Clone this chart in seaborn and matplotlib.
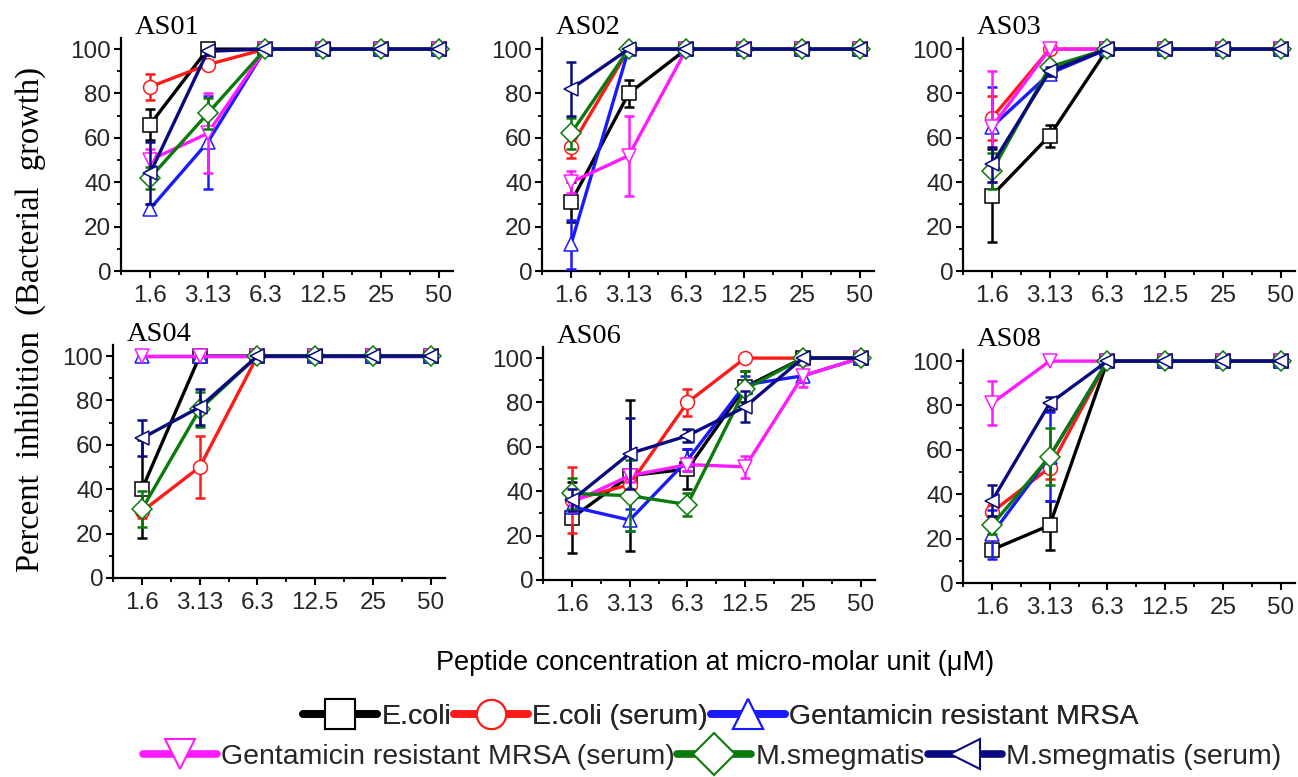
import numpy as np
import pandas as pd
import matplotlib
matplotlib.use("Agg")
import matplotlib.pyplot as plt
from matplotlib.lines import Line2D
from matplotlib.ticker import MultipleLocator
import seaborn as sns

# ---------------- data ----------------
concentrations = ["1.6", "3.13", "6.3", "12.5", "25", "50"]
series_names = ["E.coli", "E.coli (serum)", "Gentamicin resistant MRSA",
                "Gentamicin resistant MRSA (serum)", "M.smegmatis", "M.smegmatis (serum)"]
series_colors = ["black", "#ff1a1a", "#1a1aff", "#ff1aff", "#0a7a0a", "#0a0a80"]
series_markers = ["s", "o", "^", "v", "D", "<"]
panel_titles = ["AS01", "AS02", "AS03", "AS04", "AS06", "AS08"]

as01_mean = [[66, 100, 100, 100, 100, 100],
             [83, 93, 100, 100, 100, 100],
             [28, 58, 100, 100, 100, 100],
             [50, 62, 100, 100, 100, 100],
             [42, 71, 100, 100, 100, 100],
             [44, 99, 100, 100, 100, 100]]
as01_err = [[7, 0, 0, 0, 0, 0],
            [6, 2, 0, 0, 0, 0],
            [2, 21, 0, 0, 0, 0],
            [5, 18, 0, 0, 0, 0],
            [5, 7, 0, 0, 0, 0],
            [14, 0, 0, 0, 0, 0]]

as02_mean = [[31, 80, 100, 100, 100, 100],
             [56, 100, 100, 100, 100, 100],
             [12, 100, 100, 100, 100, 100],
             [40, 52, 100, 100, 100, 100],
             [62, 100, 100, 100, 100, 100],
             [82, 100, 100, 100, 100, 100]]
as02_err = [[9, 6, 0, 0, 0, 0],
            [5, 0, 0, 0, 0, 0],
            [11, 0, 0, 0, 0, 0],
            [5, 18, 0, 0, 0, 0],
            [7, 0, 0, 0, 0, 0],
            [12, 0, 0, 0, 0, 0]]

as03_mean = [[34, 61, 100, 100, 100, 100],
             [69, 100, 100, 100, 100, 100],
             [65, 89, 100, 100, 100, 100],
             [65, 100, 100, 100, 100, 100],
             [45, 92, 100, 100, 100, 100],
             [48, 90, 100, 100, 100, 100]]
as03_err = [[21, 5, 0, 0, 0, 0],
            [10, 0, 0, 0, 0, 0],
            [18, 2, 0, 0, 0, 0],
            [25, 0, 0, 0, 0, 0],
            [8, 2, 0, 0, 0, 0],
            [8, 2, 0, 0, 0, 0]]

as04_mean = [[40, 100, 100, 100, 100, 100],
             [30, 50, 100, 100, 100, 100],
             [100, 100, 100, 100, 100, 100],
             [100, 100, 100, 100, 100, 100],
             [31, 76, 100, 100, 100, 100],
             [63, 77, 100, 100, 100, 100]]
as04_err = [[22, 0, 0, 0, 0, 0],
            [3, 14, 0, 0, 0, 0],
            [0, 0, 0, 0, 0, 0],
            [0, 0, 0, 0, 0, 0],
            [8, 8, 0, 0, 0, 0],
            [8, 8, 0, 0, 0, 0]]

as06_mean = [[28, 47, 50, 87, 100, 100],
             [36, 43, 80, 100, 100, 100],
             [33, 27, 54, 88, 92, 100],
             [35, 47, 52, 51, 92, 100],
             [39, 38, 34, 86, 100, 100],
             [36, 57, 65, 78, 100, 100]]
as06_err = [[16, 34, 9, 7, 0, 0],
            [15, 5, 6, 0, 0, 0],
            [3, 5, 5, 4, 2, 0],
            [4, 3, 3, 5, 5, 0],
            [7, 16, 5, 8, 0, 0],
            [5, 16, 3, 7, 0, 0]]

as08_mean = [[15, 26, 100, 100, 100, 100],
             [32, 52, 100, 100, 100, 100],
             [22, 57, 100, 100, 100, 100],
             [81, 100, 100, 100, 100, 100],
             [26, 57, 100, 100, 100, 100],
             [37, 81, 100, 100, 100, 100]]
as08_err = [[2, 11, 0, 0, 0, 0],
            [3, 5, 0, 0, 0, 0],
            [11, 20, 0, 0, 0, 0],
            [10, 0, 0, 0, 0, 0],
            [4, 13, 0, 0, 0, 0],
            [7, 3, 0, 0, 0, 0]]

panel_means = [as01_mean, as02_mean, as03_mean, as04_mean, as06_mean, as08_mean]
panel_errs = [as01_err, as02_err, as03_err, as04_err, as06_err, as08_err]

# ---------------- style ----------------
sns.set_theme(style="ticks")
plt.rcParams['font.family'] = ['Liberation Sans', 'DejaVu Sans']
plt.rcParams['xtick.direction'] = 'out'
plt.rcParams['ytick.direction'] = 'out'

W, H = 1298, 777
fig = plt.figure(figsize=(W / 100, H / 100), dpi=100)

# axes placement in pixels: (left spine x, bottom spine y)
placements = [(121, 271), (542, 271), (963, 271),
              (113, 578), (543, 580), (963, 583)]
AX_W, AX_H = 332, 233
STEP = 57.7
x_left = -29 / STEP
x_right = x_left + AX_W / STEP

for p in range(6):
    lx, by = placements[p]
    ax = fig.add_axes([lx / W, 1 - by / H, AX_W / W, AX_H / H])
    means = panel_means[p]
    errs = panel_errs[p]
    for s in range(6):
        df = pd.DataFrame({"x": np.arange(len(concentrations)),
                           "y": means[s]})
        col = series_colors[s]
        ax.errorbar(df["x"], df["y"], yerr=errs[s], fmt="none",
                    ecolor=col, elinewidth=1.8, capsize=3.5, capthick=1.8,
                    zorder=2 + s)
        sns.lineplot(data=df, x="x", y="y", ax=ax, color=col,
                     linewidth=2.4, marker=series_markers[s],
                     markersize=10, markerfacecolor="white",
                     markeredgecolor=col, markeredgewidth=1.1,
                     zorder=2 + s, legend=False)
    ax.set_xlim(x_left, x_right)
    ax.set_ylim(0, 105)
    ax.set_xticks(np.arange(len(concentrations)))
    ax.set_xticklabels(concentrations)
    ax.xaxis.set_minor_locator(MultipleLocator(0.5))
    ax.set_yticks([0, 20, 40, 60, 80, 100])
    ax.yaxis.set_minor_locator(MultipleLocator(10))
    ax.tick_params(axis="both", which="major", labelsize=17.5, length=5,
                   width=1.5, color="black", pad=2)
    ax.tick_params(axis="both", which="minor", length=3, width=1.3,
                   color="black")
    ax.tick_params(axis="x", which="major", pad=5)
    ax.set_xlabel("")
    ax.set_ylabel("")
    for side in ["top", "right"]:
        ax.spines[side].set_visible(False)
    for side in ["left", "bottom"]:
        ax.spines[side].set_linewidth(1.6)
        ax.spines[side].set_color("black")
    ax.text(14 / AX_W, 1 + 4 / AX_H, panel_titles[p], transform=ax.transAxes,
            ha="left", va="baseline", fontsize=20.5,
            family=["Liberation Serif", "DejaVu Serif"], color="black")

fig.text(30 / W, 1 - 320 / H, "Percent  inhibition  (Bacterial  growth)",
         rotation=90, ha="center", va="center", fontsize=23.5,
         family=["Liberation Serif", "DejaVu Serif"], color="black")
fig.text(715 / W, 1 - 663 / H, "Peptide concentration at micro-molar unit (\u03bcM)",
         ha="center", va="center", fontsize=19.5, color="black")

handles = []
for s in range(6):
    handles.append(Line2D([0], [0], color=series_colors[s], linewidth=5.5,
                          solid_capstyle="round", marker=series_markers[s],
                          markersize=21, markerfacecolor="white",
                          markeredgecolor=series_colors[s], markeredgewidth=1.5))

leg_kw = dict(loc="center", ncol=3, frameon=False, fontsize=20.5,
              handlelength=2.6, handletextpad=0.15, columnspacing=0.1,
              numpoints=1, borderpad=0.1)
leg1 = fig.legend(handles[:3], series_names[:3],
                  bbox_to_anchor=(721 / W, 1 - 717 / H), **leg_kw)
fig.add_artist(leg1)
leg2 = fig.legend(handles[3:], series_names[3:],
                  bbox_to_anchor=(712 / W, 1 - 757 / H), **leg_kw)

fig.savefig("out.png", dpi=100)
